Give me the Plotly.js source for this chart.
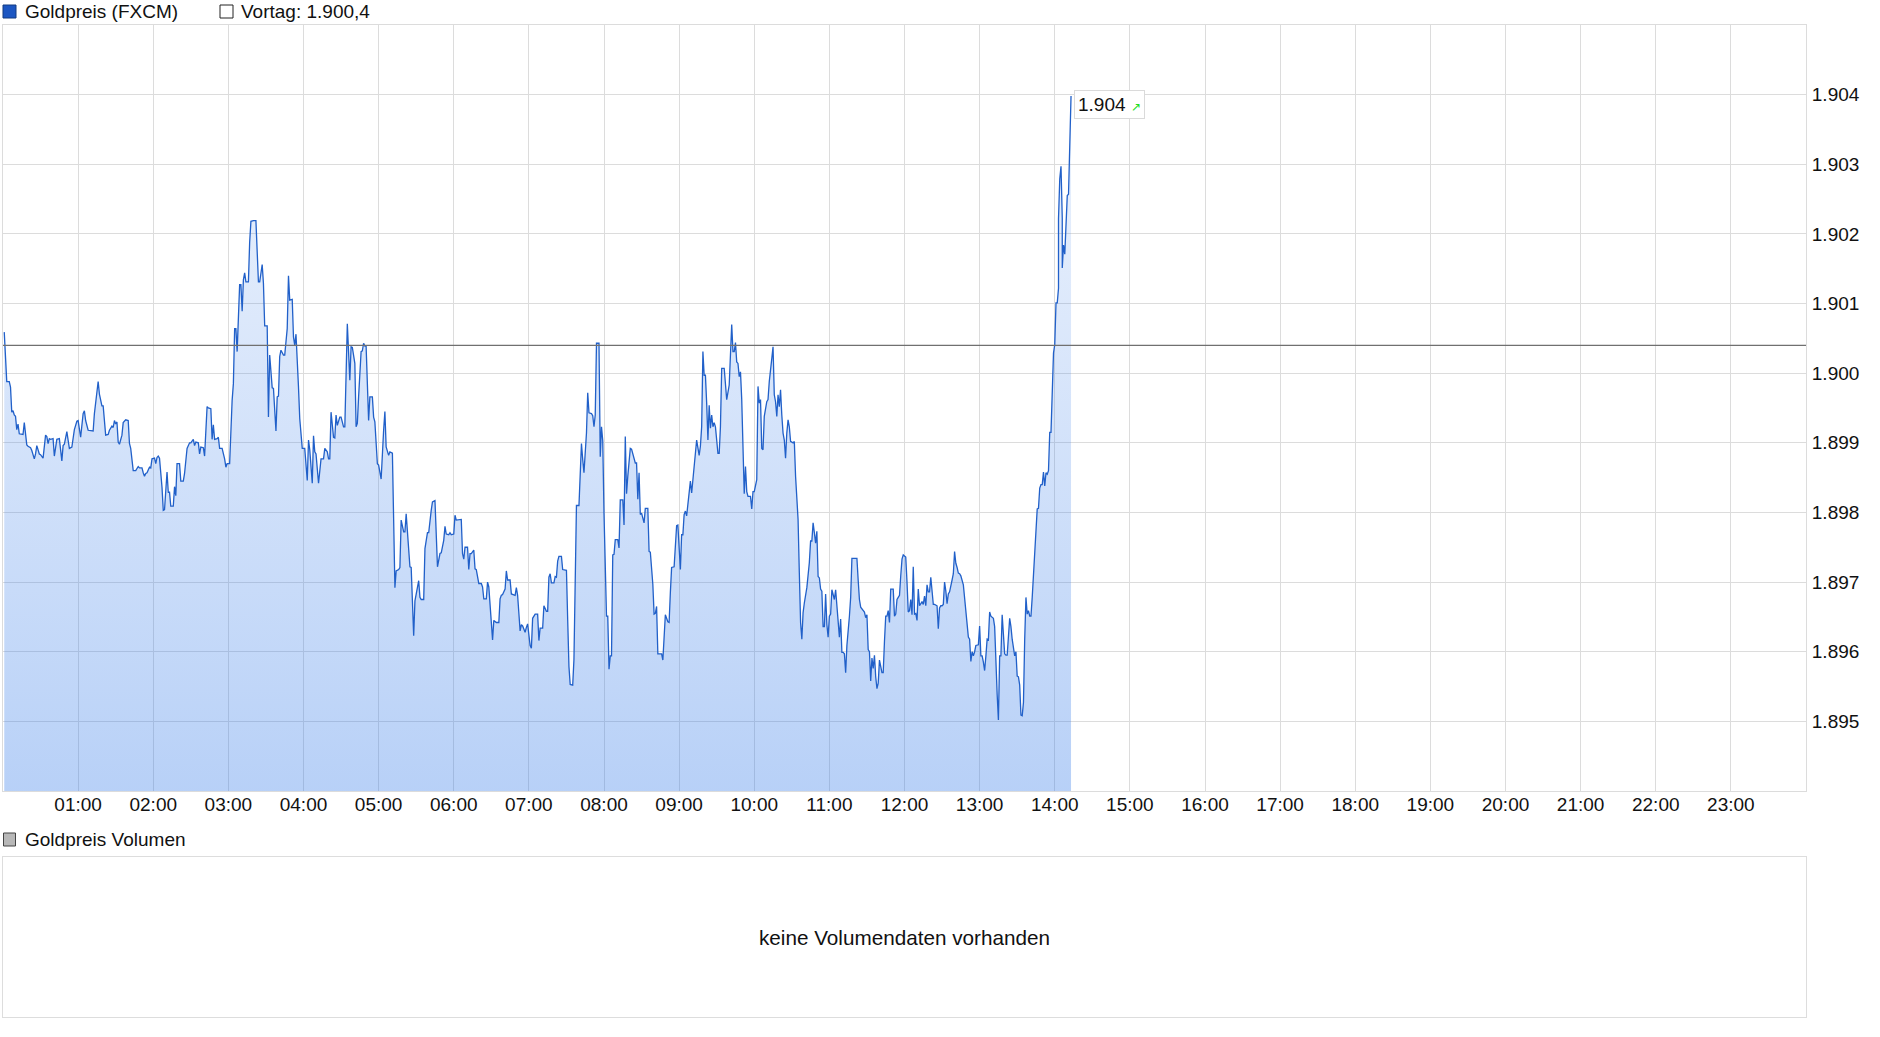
<!DOCTYPE html>
<html>
<head>
<meta charset="utf-8">
<script src="https://cdn.plot.ly/plotly-3.0.1.min.js"></script>
<style>
html, body { margin: 0; padding: 0; background: #ffffff; }
#chart { width: 1880px; height: 1037px; }
</style>
</head>
<body>
<div id="chart"></div>
<script>
// ---------- data ----------
const seriesName = 'Goldpreis (FXCM)';
const volumeName = 'Goldpreis Volumen';
const volumeMessage = 'keine Volumendaten vorhanden';
const prevCloseLabel = 'Vortag';
const prevClose = 1900.4;

const hourLabels = ['01:00','02:00','03:00','04:00','05:00','06:00','07:00','08:00','09:00','10:00','11:00','12:00',
  '13:00','14:00','15:00','16:00','17:00','18:00','19:00','20:00','21:00','22:00','23:00'];
const priceTicks = [1895, 1896, 1897, 1898, 1899, 1900, 1901, 1902, 1903, 1904];

// minute of the day / price (USD), 00:00 - 03:33
const minutesA = [1,3,5,6,7,8,9,10,11,12,13,15,16,17,18,19,20,22,23,25,26,27,29,30,32,34,35,36,37,38,40,41,43,45,47,48,49,51,52,53,
  55,57,59,60,62,64,65,66,68,72,73,75,76,77,79,80,81,82,84,85,87,88,89,90,91,92,93,95,96,98,100,101,102,104,106,108,109,111,112,113,
  114,115,117,118,119,121,122,123,124,125,127,128,129,131,132,133,134,136,137,138,139,141,142,144,145,147,149,150,152,153,
  154,156,157,158,160,161,163,164,166,167,168,169,171,172,173,175,177,178,179,181,183,184,185,186,187,189,190,191,192,193,
  194,196,197,198,200,202,204,205,207,208,209,211,212,213];
const pricesA = [1900.59,1899.88,1899.88,1899.80,1899.44,1899.46,1899.40,1899.38,1899.19,1899.27,
  1899.13,1899.12,1899.12,1899.29,1899.13,1898.97,1898.95,1898.93,1898.89,1898.77,
  1898.84,1898.96,1898.84,1898.83,1898.78,1899.11,1899.09,1898.99,1899.06,1899.05,
  1899.06,1898.81,1899.05,1899.06,1898.74,1898.96,1898.98,1899.16,1899.04,1898.92,
  1898.94,1899.19,1899.31,1899.32,1899.08,1899.42,1899.46,1899.32,1899.18,1899.17,
  1899.42,1899.69,1899.88,1899.70,1899.53,1899.53,1899.30,1899.11,1899.12,1899.18,
  1899.24,1899.22,1899.32,1899.27,1899.30,1899.01,1898.98,1899.11,1899.29,1899.33,
  1899.32,1898.99,1898.92,1898.60,1898.60,1898.66,1898.64,1898.64,1898.57,1898.52,
  1898.56,1898.57,1898.65,1898.64,1898.77,1898.78,1898.70,1898.79,1898.81,1898.78,
  1898.36,1898.03,1898.04,1898.58,1898.29,1898.29,1898.09,1898.09,1898.37,1898.24,
  1898.70,1898.70,1898.45,1898.45,1898.56,1898.92,1899.00,1899.00,1899.05,1898.96,
  1899.01,1899.00,1898.84,1898.94,1898.93,1898.81,1899.52,1899.50,1899.49,1899.05,
  1899.26,1899.05,1899.06,1899.08,1898.92,1898.92,1898.77,1898.65,1898.70,1898.70,
  1899.61,1899.85,1900.64,1900.64,1900.31,1901.27,1901.27,1900.89,1901.34,1901.44,
  1901.31,1901.31,1901.88,1902.18,1902.19,1902.19,1901.31,1901.31,1901.56,1901.29,
  1900.68,1900.68,1899.37,1900.26];

// 03:35 - 07:17
const minutesB = [215,216,218,219,220,221,222,224,225,227,228,229,231,232,233,234,236,237,239,241,
  243,244,245,247,248,249,250,252,254,256,257,259,260,261,262,264,265,266,267,269,
  270,272,273,274,275,277,278,279,281,282,283,284,286,287,288,289,290,292,293,295,
  296,297,299,300,301,302,304,305,306,308,309,311,312,313,314,316,317,318,320,321,
  322,324,325,326,327,328,329,330,332,333,334,336,337,339,340,342,343,345,346,347,
  349,350,352,353,354,356,357,358,360,361,362,364,366,367,368,369,371,372,373,374,
  376,377,378,380,382,383,384,386,387,388,390,391,392,394,396,397,398,399,401,402,
  403,405,406,408,409,410,411,413,414,415,417,418,419,421,422,423,425,427,428,429,
  431,432,434,435,436,437];
const pricesB = [1899.79,1899.78,1899.17,1899.66,1899.67,1900.24,1900.33,1900.26,1900.26,1900.64,
  1901.40,1901.05,1901.06,1900.52,1900.40,1900.56,1899.80,1899.35,1898.92,1898.92,
  1898.46,1899.04,1898.90,1898.42,1899.10,1898.87,1898.84,1898.42,1898.77,1898.77,
  1898.92,1898.87,1898.77,1898.77,1899.44,1899.08,1899.07,1899.40,1899.25,1899.37,
  1899.37,1899.23,1899.23,1899.85,1900.71,1899.90,1900.38,1900.37,1900.14,1899.23,
  1899.28,1899.66,1900.31,1900.32,1900.43,1900.39,1900.39,1899.32,1899.66,1899.66,
  1899.37,1899.30,1898.70,1898.68,1898.56,1898.48,1899.18,1899.45,1898.94,1898.82,
  1898.87,1898.85,1897.89,1896.92,1897.16,1897.18,1897.21,1897.89,1897.72,1897.72,
  1897.98,1897.36,1897.22,1897.21,1896.64,1896.23,1896.73,1896.82,1897.02,1896.78,
  1896.75,1896.75,1897.48,1897.71,1897.71,1898.03,1898.15,1898.17,1897.55,1897.22,
  1897.41,1897.42,1897.60,1897.80,1897.69,1897.68,1897.71,1897.68,1897.69,1897.96,
  1897.89,1897.90,1897.90,1897.41,1897.33,1897.50,1897.50,1897.18,1897.41,1897.41,
  1897.46,1897.19,1897.18,1896.98,1896.98,1896.93,1896.76,1896.76,1897.00,1896.93,
  1896.49,1896.17,1896.45,1896.42,1896.42,1896.76,1896.81,1896.82,1896.90,1897.16,
  1897.03,1897.03,1896.83,1896.82,1896.81,1896.92,1896.81,1896.30,1896.39,1896.37,
  1896.28,1896.35,1896.40,1896.09,1896.05,1896.48,1896.54,1896.54,1896.16,1896.34,
  1896.34,1896.66,1896.58,1896.58,1897.07,1897.12];

// 07:18 - 10:52
const minutesC = [438,440,441,442,443,444,446,447,448,450,451,452,453,455,456,457,458,460,462,463,
  464,466,467,468,470,471,472,473,474,476,477,478,479,480,482,483,484,485,486,487,
  488,489,491,492,493,495,496,497,498,499,501,502,504,505,506,507,508,509,510,512,
  513,515,516,517,519,520,521,522,523,526,527,528,529,531,532,533,534,536,537,538,
  539,541,542,543,544,545,546,548,549,550,551,552,553,554,556,557,558,559,560,561,
  562,563,564,565,566,567,568,569,571,572,573,574,576,577,578,580,581,582,583,584,
  585,586,587,588,589,590,592,593,594,595,597,598,599,600,602,603,604,605,606,607,
  608,609,610,611,612,614,615,616,617,618,619,620,621,622,623,624,625,626,627,628,
  629,631,632,633,635,636,637,638,639,640,641,642,644,645,646,647,648,649,650,651,
  652];
const pricesC = [1896.99,1896.99,1897.08,1897.07,1897.30,1897.37,1897.37,1897.18,1897.18,1897.17,
  1896.46,1895.79,1895.53,1895.52,1895.89,1896.99,1898.10,1898.10,1898.99,1898.76,
  1898.57,1899.14,1899.72,1899.43,1899.42,1899.39,1899.23,1899.40,1900.43,1900.43,
  1898.80,1899.23,1899.03,1897.99,1896.51,1896.51,1895.75,1895.94,1895.94,1897.39,
  1897.40,1897.61,1897.61,1897.49,1898.18,1898.18,1897.82,1899.09,1898.27,1898.52,
  1898.92,1898.91,1898.77,1898.71,1898.71,1898.19,1898.57,1897.97,1897.99,1897.85,
  1898.06,1898.06,1897.44,1897.43,1896.97,1896.54,1896.55,1896.65,1895.97,1895.97,
  1895.88,1896.32,1896.53,1896.43,1896.42,1896.85,1897.21,1897.22,1897.49,1897.81,
  1897.82,1897.18,1897.68,1897.68,1897.97,1898.02,1897.95,1898.29,1898.45,1898.28,
  1898.47,1898.71,1898.92,1899.04,1898.82,1898.95,1899.23,1900.31,1899.97,1899.97,
  1899.57,1899.04,1899.54,1899.21,1899.40,1899.23,1899.29,1899.23,1898.85,1898.85,
  1899.23,1900.07,1900.07,1899.85,1899.62,1899.83,1900.19,1900.70,1900.31,1900.31,
  1900.44,1900.16,1900.14,1899.95,1900.02,1899.62,1898.27,1898.66,1898.30,1898.23,
  1898.23,1898.05,1898.30,1898.30,1898.47,1899.81,1899.57,1899.62,1898.92,1898.90,
  1899.38,1899.50,1899.59,1899.62,1899.88,1900.21,1900.38,1899.69,1899.59,1899.38,
  1899.69,1899.52,1899.76,1899.40,1899.14,1899.04,1898.78,1899.14,1899.33,1899.23,
  1899.02,1899.00,1899.02,1898.52,1897.90,1897.13,1896.42,1896.18,1896.56,1896.70,
  1896.82,1896.92,1897.28,1897.59,1897.59,1897.85,1897.71,1897.56,1897.73,1897.08,
  1897.06];

// 10:53 - 14:13
const minutesD = [653,654,655,656,657,658,659,660,661,662,664,665,666,668,669,670,671,672,673,674,
  676,677,678,679,680,682,683,684,685,686,688,689,690,691,692,693,694,695,696,697,
  698,699,700,702,703,704,705,706,707,708,709,711,712,713,714,715,716,717,718,719,
  721,722,723,724,725,726,727,728,729,730,731,732,734,735,736,737,738,739,740,741,
  742,743,744,746,747,748,749,750,751,752,753,754,755,756,758,759,760,761,762,763,
  764,765,767,768,769,770,771,772,773,774,775,776,777,779,780,781,782,783,784,785,
  786,787,788,789,791,792,793,794,795,796,797,798,800,801,802,803,804,805,806,808,
  809,810,811,812,813,814,815,816,817,818,819,820,821,822,824,825,826,827,828,829,
  830,831,832,833,834,835,836,837,838,839,840,841,842,843,843,844,845,846,846,847,
  848,849,850,851,852,853];
const pricesD = [1896.90,1896.87,1896.36,1896.36,1896.83,1896.39,1896.21,1896.51,1896.54,1896.89,
  1896.75,1896.89,1896.63,1896.21,1896.47,1895.99,1895.99,1895.97,1895.70,1896.09,
  1896.51,1896.78,1897.34,1897.34,1897.33,1897.34,1897.03,1896.75,1896.64,1896.61,
  1896.57,1896.49,1896.53,1896.03,1896.00,1895.58,1895.91,1895.76,1895.95,1895.64,
  1895.47,1895.55,1895.88,1895.70,1895.70,1896.15,1896.51,1896.51,1896.59,1896.42,
  1896.90,1896.90,1896.51,1896.54,1896.75,1896.78,1896.81,1897.09,1897.33,1897.39,
  1897.36,1897.00,1896.57,1896.59,1896.75,1896.53,1897.22,1896.54,1896.55,1896.45,
  1896.90,1896.66,1896.72,1896.68,1896.80,1896.66,1896.96,1896.86,1896.86,1897.07,
  1896.83,1896.68,1896.68,1896.66,1896.33,1896.63,1896.66,1896.66,1896.68,1897.00,
  1896.87,1896.69,1896.83,1896.86,1897.03,1897.12,1897.44,1897.27,1897.21,1897.13,
  1897.12,1897.09,1896.96,1896.75,1896.54,1896.42,1896.21,1896.18,1895.86,1896.00,
  1895.94,1896.00,1896.09,1896.10,1896.37,1895.94,1895.94,1895.85,1895.73,1895.94,
  1896.18,1896.17,1896.57,1896.51,1896.48,1896.36,1895.76,1895.39,1895.02,1895.94,
  1895.94,1896.53,1895.97,1895.95,1895.95,1896.18,1896.48,1896.36,1896.18,1895.94,
  1896.00,1895.65,1895.64,1895.52,1895.09,1895.08,1895.27,1896.18,1896.78,1896.54,
  1896.59,1896.51,1896.51,1896.78,1897.39,1897.75,1898.05,1898.06,1898.35,1898.40,
  1898.40,1898.58,1898.38,1898.57,1898.55,1898.60,1899.15,1899.15,1899.86,1900.29,
  1900.41,1901.01,1901.01,1901.22,1902.22,1902.79,1902.97,1902.22,1901.51,1901.84,
  1901.71,1902.16,1902.55,1902.57,1903.15,1903.98];

// ---------- assembly ----------
const minutes = [].concat(minutesA, minutesB, minutesC, minutesD);
const prices = [].concat(pricesA, pricesB, pricesC, pricesD);

function fmtDe(v, dec) {
  const s = v.toFixed(dec).split('.');
  const intPart = s[0].replace(/\B(?=(\d{3})+(?!\d))/g, '.');
  return s.length > 1 ? intPart + ',' + s[1] : intPart;
}

const W = 1880, H = 1037, ML = 3, MR = 74, MT = 25, MB = 20;
const plotW = W - ML - MR, plotH = H - MT - MB;
const px = x => (x - ML) / plotW;
const py = y => (H - MB - y) / plotH;

const font = 'Liberation Sans, Arial, sans-serif';
const textColor = '#111111';
const gridColor = '#dcdcdc';
const lineBlue = '#2160c9';

const lastMin = minutes[minutes.length - 1];
const lastPrice = prices[prices.length - 1];

const traces = [
  {
    type: 'scatter', mode: 'lines', name: seriesName,
    x: minutes, y: prices,
    line: { color: lineBlue, width: 1.3 },
    fill: 'tozeroy',
    fillgradient: {
      type: 'vertical', start: 1894, stop: 1905,
      colorscale: [[0, 'rgba(45,118,232,0.34)'], [1, 'rgba(80,140,235,0.09)']]
    },
    hoverinfo: 'skip', showlegend: false
  },
  { type: 'scatter', x: [], y: [], xaxis: 'x2', yaxis: 'y2', showlegend: false, hoverinfo: 'skip' }
];

const axisFont = { family: font, size: 19, color: textColor };

const layout = {
  width: W, height: H,
  margin: { l: ML, r: MR, t: MT, b: MB, pad: 0 },
  paper_bgcolor: '#ffffff', plot_bgcolor: '#ffffff',
  showlegend: false,
  font: { family: font, size: 19, color: textColor },
  xaxis: {
    type: 'linear', range: [0, 1440], domain: [0, 1], anchor: 'y',
    tickmode: 'array', tickvals: hourLabels.map((_, i) => (i + 1) * 60), ticktext: hourLabels,
    showgrid: true, gridcolor: gridColor, gridwidth: 1,
    showline: true, mirror: true, linecolor: gridColor, linewidth: 1,
    zeroline: false, ticks: '', tickfont: axisFont, ticklabelstandoff: -4,
    fixedrange: true
  },
  yaxis: {
    range: [1894, 1905], domain: [py(791), 1], anchor: 'x', side: 'right',
    tickmode: 'array', tickvals: priceTicks, ticktext: priceTicks.map(v => fmtDe(v, 0)),
    showgrid: true, gridcolor: gridColor, gridwidth: 1,
    showline: true, mirror: true, linecolor: gridColor, linewidth: 1,
    zeroline: false, ticks: '', tickfont: axisFont, ticklabelstandoff: 1,
    fixedrange: true
  },
  xaxis2: {
    range: [0, 1], domain: [0, 1], anchor: 'y2',
    showgrid: false, showticklabels: false, ticks: '', zeroline: false,
    showline: true, mirror: true, linecolor: '#dddddd', linewidth: 1, fixedrange: true
  },
  yaxis2: {
    range: [0, 1], domain: [0, py(857)], anchor: 'x2',
    showgrid: false, showticklabels: false, ticks: '', zeroline: false,
    showline: true, mirror: true, linecolor: '#dddddd', linewidth: 1, fixedrange: true
  },
  shapes: [
    { type: 'line', xref: 'x', yref: 'y', x0: 0, x1: 1440, y0: prevClose, y1: prevClose,
      line: { color: '#707070', width: 1.3 } },
    { type: 'rect', xref: 'paper', yref: 'paper', x0: px(3), x1: px(16), y0: py(18), y1: py(5),
      fillcolor: '#1c56c2', line: { color: '#123a80', width: 1 } },
    { type: 'rect', xref: 'paper', yref: 'paper', x0: px(220), x1: px(233), y0: py(18), y1: py(5),
      fillcolor: '#ffffff', line: { color: '#222222', width: 1 } },
    { type: 'rect', xref: 'paper', yref: 'paper', x0: px(3.5), x1: px(15.5), y0: py(846), y1: py(833),
      fillcolor: '#b8b8b8', line: { color: '#444444', width: 1 } }
  ],
  annotations: [
    { xref: 'paper', yref: 'paper', x: px(23), y: py(12), xanchor: 'left', yanchor: 'middle',
      text: seriesName, showarrow: false, font: { family: font, size: 19, color: textColor } },
    { xref: 'paper', yref: 'paper', x: px(239), y: py(12), xanchor: 'left', yanchor: 'middle',
      text: prevCloseLabel + ': ' + fmtDe(prevClose, 1), showarrow: false,
      font: { family: font, size: 19, color: textColor } },
    { xref: 'paper', yref: 'paper', x: px(23), y: py(839), xanchor: 'left', yanchor: 'middle',
      text: volumeName, showarrow: false, font: { family: font, size: 19, color: textColor } },
    { xref: 'x2 domain', yref: 'y2 domain', x: 0.5, y: 0.5, xanchor: 'center', yanchor: 'middle',
      text: volumeMessage, showarrow: false, font: { family: font, size: 20.7, color: textColor } },
    { xref: 'x', yref: 'y', x: lastMin, y: lastPrice, xanchor: 'left', yanchor: 'middle',
      xshift: 3, yshift: -8, showarrow: false,
      text: fmtDe(Math.round(lastPrice), 0) + ' <span style="color:#22dd22;font-size:12px">↗</span>',
      bgcolor: '#ffffff', bordercolor: '#dadada', borderwidth: 1, borderpad: 3,
      font: { family: font, size: 19, color: textColor } }
  ]
};

Plotly.newPlot('chart', traces, layout, { displayModeBar: false, staticPlot: true });
</script>
</body>
</html>
